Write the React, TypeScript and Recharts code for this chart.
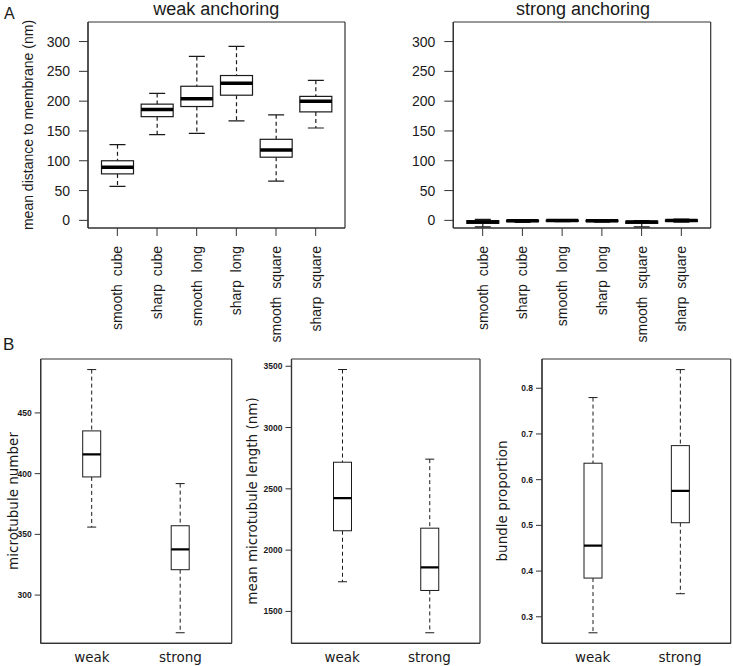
import React from 'react';
import { ComposedChart, Bar, XAxis, YAxis, CartesianGrid } from 'recharts';

// panel A: distance to membrane, per shape
const shapeCats = ['smooth  cube', 'sharp  cube', 'smooth  long', 'sharp  long', 'smooth  square', 'sharp  square'];

const weakLow = [57, 144, 146, 167, 66, 155];
const weakQ1 = [78, 174, 191, 210, 106, 182];
const weakMed = [89, 186, 204, 230, 118, 200];
const weakQ3 = [100, 195, 225, 243, 136, 208];
const weakHigh = [127, 213, 275, 292, 177, 235];

const strongLow = [-11, -3.5, -2, -3, -11, -3];
const strongQ1 = [-5, -2, -1.5, -2, -5, -1.5];
const strongMed = [-2.7, -0.7, -0.4, -0.6, -2.8, -0.3];
const strongQ3 = [-0.5, 0, 0.3, 0.2, -1.5, 0.8];
const strongHigh = [1.8, 1, 0.8, 1, -0.5, 2];

const distTicks = [0, 50, 100, 150, 200, 250, 300];

// panel B: weak vs strong anchoring
const anchorCats = ['weak', 'strong'];

const numLow = [356, 269];
const numQ1 = [397.3, 320.9];
const numMed = [415.9, 337.6];
const numQ3 = [435.2, 357.1];
const numHigh = [485.7, 391.8];
const numTicks = [300, 350, 400, 450];

const lenLow = [1742, 1326];
const lenQ1 = [2158, 1671];
const lenMed = [2424, 1859];
const lenQ3 = [2717, 2179];
const lenHigh = [3473, 2742];
const lenTicks = [1500, 2000, 2500, 3000, 3500];

const bunLow = [0.265, 0.3505];
const bunQ1 = [0.3847, 0.5058];
const bunMed = [0.4556, 0.5753];
const bunQ3 = [0.636, 0.6745];
const bunHigh = [0.7796, 0.8408];
const bunTicks = [0.3, 0.4, 0.5, 0.6, 0.7, 0.8];

const SANS = '"Liberation Sans", Arial, sans-serif';
const DEJA = '"DejaVu Sans", sans-serif';
const INK = '#1a1a1a';

const makeRows = (names: string[], low: number[], q1: number[], med: number[], q3: number[], high: number[]) =>
  names.map((name, i) => ({
    name,
    low: low[i],
    q1: q1[i],
    med: med[i],
    q3: q3[i],
    high: high[i],
    range: [low[i], high[i]],
  }));

// box + whiskers drawn inside the bar's [low, high] pixel span
const boxShape = (medW: number, lineW: number, dash: string) => (props: any) => {
  const { x, y, width, height, payload } = props;
  const top = Math.min(y, y + height);
  const h = Math.abs(height);
  const { low, q1, med, q3, high } = payload;
  const py = (v: number) => (high === low ? top : top + (h * (high - v)) / (high - low));
  const cx = x + width / 2;
  const cap = width / 4;
  return (
    <g>
      <line x1={cx} x2={cx} y1={py(high)} y2={py(q3)} stroke={INK} strokeWidth={lineW} strokeDasharray={dash} />
      <line x1={cx} x2={cx} y1={py(q1)} y2={py(low)} stroke={INK} strokeWidth={lineW} strokeDasharray={dash} />
      <line x1={cx - cap} x2={cx + cap} y1={py(high)} y2={py(high)} stroke={INK} strokeWidth={lineW} />
      <line x1={cx - cap} x2={cx + cap} y1={py(low)} y2={py(low)} stroke={INK} strokeWidth={lineW} />
      <rect x={x} y={py(q3)} width={width} height={Math.max(py(q1) - py(q3), 0.5)} fill="#fff" stroke={INK} strokeWidth={lineW} />
      <line x1={x} x2={x + width} y1={py(med)} y2={py(med)} stroke="#000" strokeWidth={medW} />
    </g>
  );
};

const CatTick = (props: any) => {
  const { x, y, payload } = props;
  return (
    <text
      transform={`translate(${x},${y}) rotate(-90)`}
      textAnchor="end"
      dy="0.36em"
      fontSize={14}
      fontFamily={SANS}
      fill={INK}
      style={{ whiteSpace: 'pre' }}
    >
      {payload.value}
    </text>
  );
};

interface PanelProps {
  rows: any[];
  left: number;
  top: number;
  width: number;
  height: number;
  marginTop: number;
  marginRight: number;
  yWidth: number;
  xHeight: number;
  domain: [number, number];
  ticks: number[];
  big: boolean;
  pad: number;
  barSize: number;
  fmt?: (v: number) => string;
}

const Panel: React.FC<PanelProps> = (p) => {
  const frame = { stroke: '#333', strokeWidth: 1.2 };
  return (
    <div style={{ position: 'absolute', left: p.left, top: p.top }}>
      <ComposedChart
        width={p.width}
        height={p.height}
        data={p.rows}
        margin={{ top: p.marginTop, right: p.marginRight, bottom: 0, left: 0 }}
      >
        {/* box around the plot region */}
        <CartesianGrid
          stroke="#333"
          strokeWidth={1.2}
          horizontalCoordinatesGenerator={({ offset }: any) => [offset.top, offset.top + offset.height]}
          verticalCoordinatesGenerator={({ offset }: any) => [offset.left, offset.left + offset.width]}
        />
        {p.big ? (
          <XAxis
            dataKey="name"
            height={p.xHeight}
            interval={0}
            padding={{ left: p.pad, right: p.pad }}
            tickSize={8}
            tickMargin={10}
            tick={CatTick}
            axisLine={frame}
            tickLine={{ stroke: '#333' }}
          />
        ) : (
          <XAxis
            dataKey="name"
            height={p.xHeight}
            interval={0}
            padding={{ left: p.pad, right: p.pad }}
            tickSize={0}
            tickMargin={9}
            tickLine={false}
            axisLine={frame}
            tick={{ fontSize: 13.5, fontFamily: DEJA, fill: INK }}
          />
        )}
        <YAxis
          type="number"
          domain={p.domain}
          ticks={p.ticks}
          interval={0}
          allowDataOverflow
          width={p.yWidth}
          tickSize={p.big ? 9 : 6}
          tickMargin={p.big ? 9 : 3}
          tickFormatter={p.fmt}
          axisLine={frame}
          tickLine={{ stroke: '#333' }}
          tick={
            p.big
              ? { fontSize: 14, fontFamily: SANS, fill: INK }
              : { fontSize: 8.5, fontFamily: SANS, fill: INK, fontWeight: 'bold' }
          }
        />
        <Bar
          dataKey="range"
          barSize={p.barSize}
          isAnimationActive={false}
          shape={p.big ? boxShape(3.5, 1.2, '4 3') : boxShape(2.2, 1, '4 3')}
        />
      </ComposedChart>
    </div>
  );
};

export default function App() {
  const weakRows = makeRows(shapeCats, weakLow, weakQ1, weakMed, weakQ3, weakHigh);
  const strongRows = makeRows(shapeCats, strongLow, strongQ1, strongMed, strongQ3, strongHigh);
  const numRows = makeRows(anchorCats, numLow, numQ1, numMed, numQ3, numHigh);
  const lenRows = makeRows(anchorCats, lenLow, lenQ1, lenMed, lenQ3, lenHigh);
  const bunRows = makeRows(anchorCats, bunLow, bunQ1, bunMed, bunQ3, bunHigh);

  const distDomain: [number, number] = [-12.8, 332.8];

  return (
    <div style={{ position: 'absolute', left: 0, top: 0, width: 733, height: 666, background: '#fff', overflow: 'hidden' }}>
      <Panel rows={numRows} left={0} top={340} width={245} height={326} marginTop={19} marginRight={13.3}
        yWidth={40.7} xHeight={22.7} domain={[260.3, 494.4]} ticks={numTicks} big={false} pad={7} barSize={18} />
      <Panel rows={lenRows} left={245} top={340} width={245} height={326} marginTop={19} marginRight={10}
        yWidth={46.5} xHeight={22.7} domain={[1240, 3559]} ticks={lenTicks} big={false} pad={7} barSize={18} />
      <Panel rows={bunRows} left={490} top={340} width={243} height={326} marginTop={19} marginRight={2.3}
        yWidth={52} xHeight={22.7} domain={[0.242, 0.864]} ticks={bunTicks} big={false} pad={7} barSize={18}
        fmt={(v: number) => v.toFixed(1)} />

      <Panel rows={weakRows} left={0} top={0} width={370} height={346} marginTop={22} marginRight={25}
        yWidth={88} xHeight={118} domain={distDomain} ticks={distTicks} big pad={9.5} barSize={32} />
      <Panel rows={strongRows} left={370} top={0} width={363} height={346} marginTop={22} marginRight={22.3}
        yWidth={83.3} xHeight={118} domain={distDomain} ticks={distTicks} big pad={9.5} barSize={32} />

      <svg width={733} height={666} style={{ position: 'absolute', left: 0, top: 0, pointerEvents: 'none' }}>
        <text x={4} y={19} fontSize={16} fontFamily={SANS} fill={INK}>A</text>
        <text x={3} y={350} fontSize={17} fontFamily={SANS} fill={INK}>B</text>
        <text x={216.3} y={15} textAnchor="middle" fontSize={18} fontFamily={SANS} fill={INK}>weak anchoring</text>
        <text x={583} y={15} textAnchor="middle" fontSize={18} fontFamily={SANS} fill={INK}>strong anchoring</text>
        <text transform="translate(27.5,125) rotate(-90)" textAnchor="middle" dy="0.36em" fontSize={14} fontFamily={SANS} fill={INK}>
          mean distance to membrane (nm)
        </text>
        <text transform="translate(13,501) rotate(-90)" textAnchor="middle" dy="0.36em" fontSize={13.5} fontFamily={DEJA} fill={INK}>
          microtubule number
        </text>
        <text transform="translate(252.5,501) rotate(-90)" textAnchor="middle" dy="0.36em" fontSize={13.5} fontFamily={DEJA} fill={INK}>
          mean microtubule length (nm)
        </text>
        <text transform="translate(502,501) rotate(-90)" textAnchor="middle" dy="0.36em" fontSize={13.5} fontFamily={DEJA} fill={INK}>
          bundle proportion
        </text>
      </svg>
    </div>
  );
}
